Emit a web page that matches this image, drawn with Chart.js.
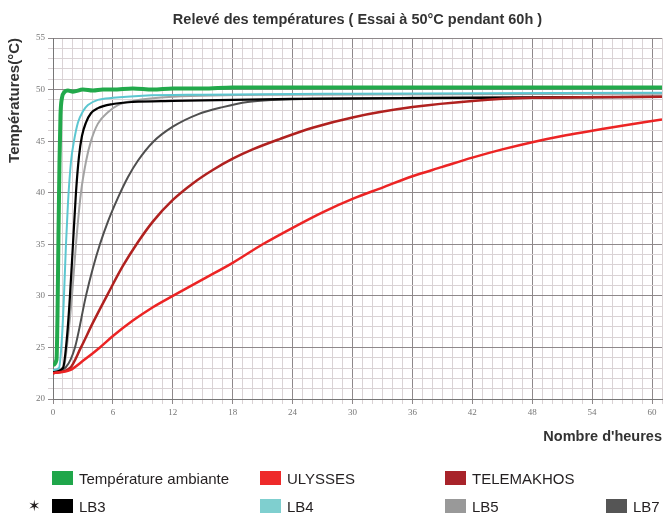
<!DOCTYPE html>
<html>
<head>
<meta charset="utf-8">
<title>Relevé des températures</title>
<script src="https://cdn.jsdelivr.net/npm/chart.js"></script>
<style>
  body { margin: 0; background: #fff; font-family: "Liberation Sans", Arial, sans-serif; }
  #wrap { position: relative; width: 665px; height: 514px; }
  #legend { position: absolute; left: 52px; top: 471px; display: grid;
            grid-template-columns: 208px 185px 161px auto; row-gap: 14px; }
  .item { display: flex; align-items: center; font-size: 15px; color: #231f20; height: 14px; white-space: nowrap; }
  .sw { width: 21px; height: 14px; margin-right: 6px; flex: none; }
  #star { position: absolute; left: 28px; top: 497px; font-size: 15px; color: #231f20; }
</style>
</head>
<body>
<div id="wrap">
  <canvas id="chart" width="665" height="514"></canvas>
  <div id="star">✶</div>
  <div id="legend"></div>
</div>
<script>
// Relevé des températures - heures / °C
const labels = ['Température ambiante', 'ULYSSES', 'TELEMAKHOS', 'LB3', 'LB4', 'LB5', 'LB7'];
const colors = ['#22a94b', '#ec2424', '#b0211f', '#000000', '#5cc6d0', '#a3a3a3', '#4f4f4f'];
const legendColors = ['#1fa64a', '#ee2a2a', '#a8232a', '#000000', '#7fcfcf', '#999999', '#555555'];
const widths = [4, 2.5, 2.5, 2.2, 2, 2, 2];

const ambientH = [0, 0.35, 0.45, 0.55, 0.65, 0.75, 0.9, 1.1, 1.5, 2, 3, 4, 5, 6, 8, 10, 12, 15, 18, 24, 30, 36, 42, 48, 54, 61];
const ambientT = [23.3, 23.8, 28, 36, 43, 47.5, 49.2, 49.7, 49.9, 49.8, 50.0, 49.9, 50.0, 50.0, 50.1, 50.0, 50.1, 50.1, 50.2, 50.2, 50.2, 50.2, 50.2, 50.2, 50.2, 50.2];

const ulyssesH = [0, 1.7, 3, 4.7, 6, 8, 10, 12, 15, 18, 21, 24, 27, 30, 33, 36, 39, 42, 45, 48, 51, 54, 57, 61];
const ulyssesT = [22.5, 22.8, 23.7, 25, 26.1, 27.6, 28.9, 30, 31.6, 33.2, 35, 36.6, 38.1, 39.4, 40.5, 41.6, 42.5, 43.4, 44.2, 44.9, 45.5, 46.0, 46.5, 47.1];

const telemH = [0, 1.7, 2.8, 4, 5.5, 7, 8.5, 10, 12, 14, 16, 18, 20, 22.7, 26, 30, 36, 42, 48, 61];
const telemT = [22.5, 23, 25, 27.4, 30.2, 32.9, 35.2, 37.2, 39.3, 40.9, 42.2, 43.3, 44.2, 45.2, 46.3, 47.3, 48.3, 48.9, 49.2, 49.3];

const lb3H = [0, 1, 1.4, 1.7, 2, 2.3, 2.6, 2.9, 3.3, 3.8, 4.5, 6, 8, 12, 24, 42, 61];
const lb3T = [22.6, 23, 26, 30, 35, 40, 43.5, 45.5, 46.8, 47.7, 48.2, 48.6, 48.8, 48.9, 49.1, 49.2, 49.3];

const lb4H = [0, 0.6, 0.9, 1.1, 1.3, 1.5, 1.8, 2.1, 2.5, 3, 3.5, 4.5, 6, 9, 15, 30, 61];
const lb4T = [22.8, 23, 26, 30, 35, 39, 43, 45, 46.8, 47.9, 48.5, 49, 49.2, 49.4, 49.5, 49.6, 49.7];

const lb5H = [0, 1.1, 1.5, 1.9, 2.3, 2.8, 3.3, 3.8, 4.5, 5.5, 6.5, 8, 12, 24, 61];
const lb5T = [22.7, 23.2, 26, 30, 35, 40, 43, 45, 46.7, 47.8, 48.5, 48.9, 49.3, 49.5, 49.6];

const lb7H = [0, 1.3, 2.2, 3.3, 4, 4.7, 5.5, 6.5, 7.5, 8.5, 10, 12, 14.5, 17, 19.5, 22, 26, 36, 61];
const lb7T = [22.6, 23.1, 25, 30, 32.7, 35, 37.2, 39.5, 41.5, 43.1, 44.9, 46.4, 47.6, 48.3, 48.8, 49.0, 49.1, 49.2, 49.3];

const seriesH = [ambientH, ulyssesH, telemH, lb3H, lb4H, lb5H, lb7H];
const seriesT = [ambientT, ulyssesT, telemT, lb3T, lb4T, lb5T, lb7T];

const datasets = labels.map((label, i) => ({
  label,
  data: seriesH[i].map((h, j) => ({ x: h, y: seriesT[i][j] })),
  borderColor: colors[i],
  borderWidth: widths[i],
  pointRadius: 0,
  fill: false,
  cubicInterpolationMode: 'monotone'
}));

const major = '#8f898b';
const minor = '#dad3d5';
const boldFont = size => ({ family: 'Liberation Sans', size, weight: 'bold' });

new Chart(document.getElementById('chart'), {
  type: 'line',
  data: { datasets },
  options: {
    responsive: false,
    animation: false,
    layout: { padding: { left: 0, right: 2, top: 0, bottom: 65 } },
    plugins: {
      legend: { display: false },
      tooltip: { enabled: false },
      title: {
        display: true,
        fullSize: false,
        text: 'Relevé des températures ( Essai à 50°C pendant 60h )',
        color: '#333',
        font: boldFont(14.5),
        padding: { top: 11, bottom: 9.6 }
      }
    },
    scales: {
      x: {
        type: 'linear',
        min: 0,
        max: 61,
        afterFit: s => { s.height = 50; },
        border: { color: '#777' },
        grid: {
          color: c => (c.tick && c.tick.value % 6 === 0) ? major : minor,
          tickLength: 5
        },
        ticks: {
          stepSize: 1,
          autoSkip: false,
          maxRotation: 0,
          padding: 3,
          color: '#777',
          font: { family: 'Liberation Serif', size: 9 },
          callback: v => (v % 6 === 0 && v <= 60) ? v : ''
        },
        title: {
          display: true,
          text: "Nombre d'heures",
          align: 'end',
          color: '#333',
          font: boldFont(14.5),
          padding: { top: 0, bottom: 3 }
        }
      },
      y: {
        min: 20,
        max: 55,
        afterFit: s => { s.width = 53; },
        border: { color: '#777' },
        grid: {
          color: c => (c.tick && c.tick.value % 5 === 0) ? major : minor,
          tickLength: 5
        },
        ticks: {
          stepSize: 1,
          autoSkip: false,
          padding: 3,
          color: '#777',
          font: { family: 'Liberation Serif', size: 9 },
          callback: v => v % 5 === 0 ? v : ''
        },
        title: {
          display: true,
          text: 'Températures(°C)',
          align: 'end',
          color: '#333',
          font: boldFont(15),
          padding: { top: 6, bottom: 0 }
        }
      }
    }
  }
});

// légende en bas, mêmes libellés que les séries
const legend = document.getElementById('legend');
const slots = [0, 1, 2, 4, 5, 6, 7]; // 3 items on first row, 4 on second
labels.forEach((label, i) => {
  const el = document.createElement('div');
  el.className = 'item';
  el.style.gridRow = slots[i] < 3 ? 1 : 2;
  el.style.gridColumn = (slots[i] < 3 ? slots[i] : slots[i] - 4) + 1;
  el.innerHTML = '<span class="sw" style="background:' + legendColors[i] + '"></span>' + label;
  legend.appendChild(el);
});
</script>
</body>
</html>
